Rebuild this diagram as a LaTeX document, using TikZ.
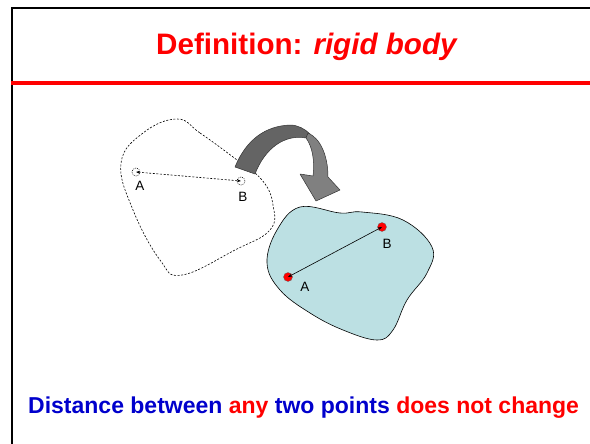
\documentclass[tikz,border=0pt]{standalone}
\usepackage{fontspec}
\setmainfont{Liberation Sans}
\usetikzlibrary{arrows.meta}
\definecolor{tred}{RGB}{255,0,0}
\definecolor{tblue}{RGB}{0,0,204}
\definecolor{bodyfill}{RGB}{188,224,227}
\definecolor{darkband}{RGB}{100,100,100}
\definecolor{lightband}{RGB}{128,128,128}
\tikzset{
  lbl/.style={font=\fontsize{13.5}{14}\selectfont, inner sep=0pt},
  ghost/.style={draw, dashed, dash pattern=on 2pt off 1.6pt, line width=0.6pt},
  ghostpt/.style={circle, draw, dash pattern=on 1pt off 1pt, line width=0.5pt, minimum size=8pt, inner sep=0pt},
  redpt/.style={circle, fill=tred, draw=black!60, line width=0.3pt, minimum size=9pt, inner sep=0pt},
  bandout/.style={draw=black!80, line width=0.5pt, line join=round}
}
\begin{document}
\begin{tikzpicture}[x=1pt,y=-1pt]
\useasboundingbox (0,0) rectangle (590,444);
% frame
\draw[line width=2pt] (11.5,444) -- (11.5,8.3) -- (590,8.3);
\draw[tred, line width=4.3pt] (10.5,83) -- (590,83);
% title
\node[anchor=base, text=tred, font=\fontsize{29.6}{32}\selectfont\bfseries, inner sep=0pt] (title) at (307,55) {Definition: \textit{rigid body}};
% ghost body
\draw[ghost] plot[smooth cycle, tension=0.7] coordinates {
  (177,119) (200,133) (233,157) (262,180) (273,205) (270,230) (235,250)
  (182,275) (160,260) (133,210) (121,163) (143,133)};
\node[ghostpt] (ga) at (136,172) {};
\node[ghostpt] (gb) at (241,181) {};
\draw[ghost, {Stealth[length=4pt,width=3pt]}-{Stealth[length=4pt,width=3pt]}] (ga.center) -- (gb.center);
\node[lbl] (gal) at (140,186) {A};
\node[lbl] (gbl) at (243,197) {B};
% curved arrow
\path[fill=darkband, bandout] (235,167) .. controls (246,140) and (265,126) .. (290,125)
  .. controls (298,125) and (305,129) .. (310,134) -- (306,138)
  .. controls (285,134) and (265,148) .. (255,174) -- cycle;
\path[fill=lightband, bandout] (308,133) .. controls (320,138) and (328,155) .. (328,177)
  -- (340,190) -- (316,201) -- (300,174) -- (313,176)
  .. controls (315,160) and (312,146) .. (306,138) -- cycle;
% solid body
\draw[fill=bodyfill, line width=0.6pt] plot[smooth cycle, tension=0.65] coordinates {
  (300,207) (340,213) (362,212) (403,220) (432,247) (427,273) (407,300)
  (393,330) (377,340) (343,330) (310,313) (280,290) (267,263) (277,230)};
\node[redpt] (sa) at (288,277) {};
\node[redpt] (sb) at (382,227) {};
\draw[line width=0.6pt, {Stealth[length=4pt,width=3pt]}-{Stealth[length=4pt,width=3pt]}] (sa.center) -- (sb.center);
\node[lbl] (sal) at (305,287) {A};
\node[lbl] (sbl) at (387,244) {B};
% bottom text
\node[anchor=base west, font=\fontsize{23}{25}\selectfont\bfseries, inner sep=0pt] (bottom) at (28,413)
  {\textcolor{tblue}{Distance between} \textcolor{tred}{any} \textcolor{tblue}{two points} \textcolor{tred}{does not change}};
\end{tikzpicture}
\end{document}
